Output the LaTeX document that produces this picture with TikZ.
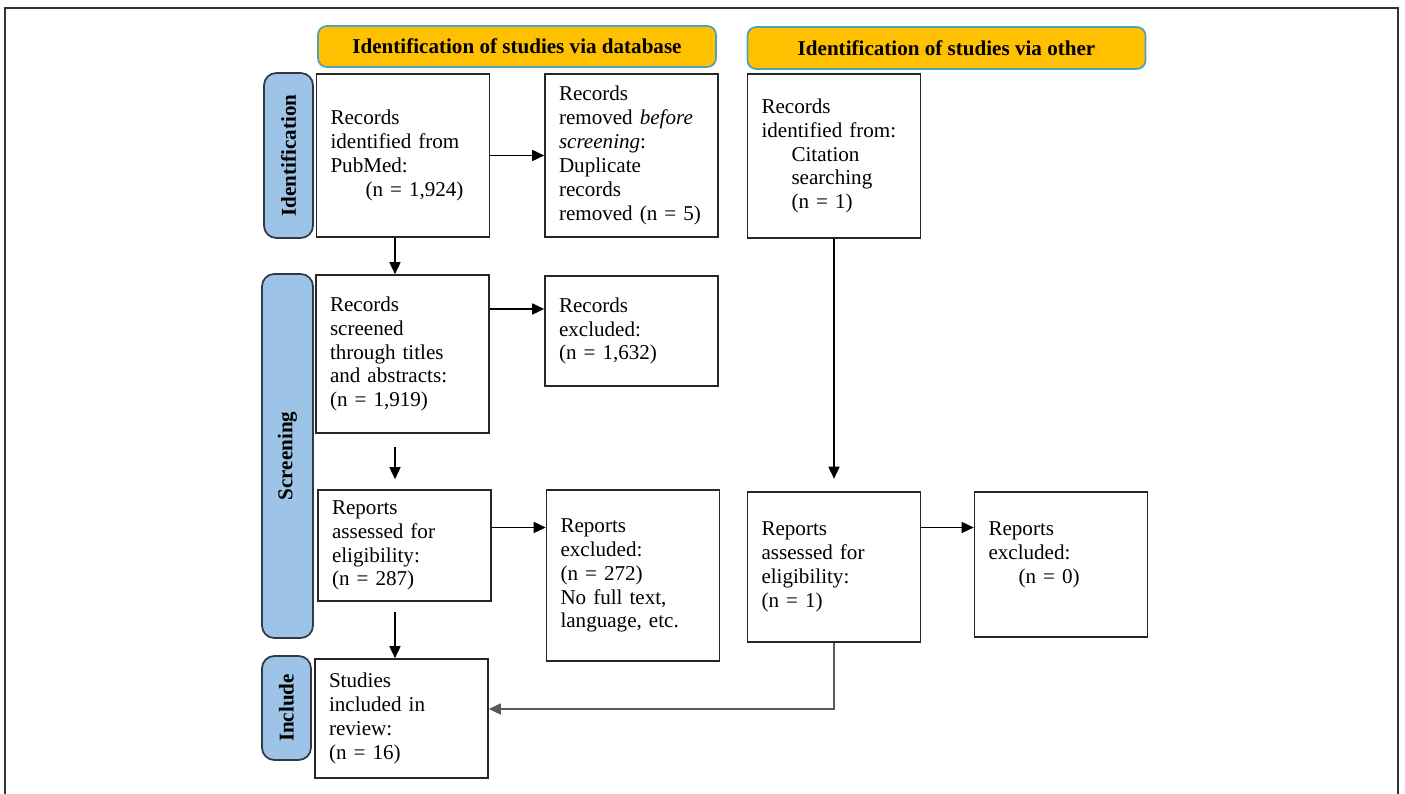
\documentclass[tikz,border=0pt]{standalone}
\usepackage{fontspec}
\setmainfont{Liberation Serif}
\usepackage{tikz}
\usepackage{xcolor}
\usetikzlibrary{arrows.meta,calc,positioning}
\definecolor{HeadAmber}{HTML}{FFC000}
\definecolor{HeadEdge}{HTML}{4BA3BD}
\definecolor{SideBlue}{HTML}{9DC3E6}
\definecolor{SideEdge}{HTML}{2E3A46}
\definecolor{BoxEdge}{HTML}{262626}
\definecolor{ReturnGray}{HTML}{5A5A5A}
\definecolor{FrameGray}{HTML}{333333}

\begin{document}
\begin{tikzpicture}[
      font=\fontsize{12}{13.6}\selectfont,
      >={Triangle[length=2.4mm,width=2.2mm]},
      headbox/.style={draw=HeadEdge,fill=HeadAmber,line width=1.0pt,rounded corners=5pt,minimum width=7.96cm,minimum height=0.82cm,font=\fontsize{12}{14}\selectfont\bfseries},
      sidebox/.style={draw=SideEdge,fill=SideBlue,line width=1.0pt,rounded corners=7pt,rotate=90,minimum height=0.98cm,font=\fontsize{12}{14}\selectfont\bfseries},
      recbox/.style={draw=BoxEdge,line width=0.9pt,inner xsep=0.28cm,text width=2.9cm,align=left},
      arr/.style={->,line width=0.9pt,draw=black}
    ]
      \useasboundingbox (0,0) rectangle (28.1,15.88);
      % outer frame, open at the bottom
      \draw[FrameGray,line width=0.6pt] (0.1,0) |- (27.96,15.72) -- (27.96,0);

      \node[headbox] (hdata) at (10.34,14.95) {Identification of studies via database};
      \node[headbox,minimum height=0.84cm] (hother) at (18.93,14.92) {Identification of studies via other};

      \node[sidebox,minimum width=3.3cm] (sident) at (5.77,12.77) {Identification};
      \node[sidebox,minimum width=7.28cm,minimum height=1.02cm] (sscreen) at (5.75,6.76) {Screening};
      \node[sidebox,minimum width=2.08cm] (sinclude) at (5.73,1.72) {Include};

      \node[recbox,minimum height=3.26cm] (pubmed) at (8.06,12.77) {Records\\identified from\\PubMed:\\\hspace*{0.7cm}(n = 1,924)};
      \node[recbox,minimum height=3.26cm] (dupl) at (12.63,12.77) {Records\\removed \textit{before}\\\textit{screening}:\\Duplicate\\records\\removed (n = 5)};
      \node[recbox,minimum height=3.28cm] (citation) at (16.68,12.76) {Records\\identified from:\\\hspace*{0.6cm}Citation\\\hspace*{0.6cm}searching\\\hspace*{0.6cm}(n = 1)};
      \node[recbox,minimum height=3.16cm] (screened) at (8.05,8.80) {Records\\screened\\through titles\\and abstracts:\\(n = 1,919)};
      \node[recbox,minimum height=2.2cm] (excluded) at (12.63,9.26) {Records\\excluded:\\(n = 1,632)};
      \node[recbox,minimum height=2.22cm] (assessed) at (8.09,4.97) {Reports\\assessed for\\eligibility:\\(n = 287)};
      \node[recbox,minimum height=3.42cm] (rptexcl) at (12.66,4.37) {Reports\\excluded:\\(n = 272)\\No full text,\\language, etc.};
      \node[recbox,minimum height=3.0cm] (assessedb) at (16.68,4.54) {Reports\\assessed for\\eligibility:\\(n = 1)};
      \node[recbox,minimum height=2.9cm] (rptexclb) at (21.22,4.59) {Reports\\excluded:\\\hspace*{0.6cm}(n = 0)\\\mbox{}};
      \node[recbox,minimum height=2.38cm] (included) at (8.03,1.51) {Studies\\included in\\review:\\(n = 16)};

      \draw[arr] (pubmed) -- (dupl);
      \draw[arr] ([xshift=-0.16cm]pubmed.south) -- ([xshift=-0.16cm]pubmed.south |- screened.north);
      \draw[arr] ([yshift=0.9cm]screened.east) -- ([yshift=0.9cm]screened.east -| excluded.west);
      \draw[arr,shorten <=0.26cm,shorten >=0.2cm] ([xshift=-0.15cm]screened.south) -- ([xshift=-0.15cm]screened.south |- assessed.north);
      \draw[arr] ([yshift=0.36cm]assessed.east) -- ([yshift=0.36cm]assessed.east -| rptexcl.west);
      \draw[arr,shorten <=0.2cm] ([xshift=-0.19cm]assessed.south) -- ([xshift=-0.19cm]assessed.south |- included.north);
      \draw[arr,shorten >=0.25cm] (citation) -- (assessedb);
      \draw[arr] ([yshift=0.79cm]assessedb.east) -- ([yshift=0.79cm]assessedb.east -| rptexclb.west);
      \draw[arr,draw=ReturnGray] (assessedb.south) |- ([yshift=0.19cm]included.east);
    \end{tikzpicture}
\end{document}
